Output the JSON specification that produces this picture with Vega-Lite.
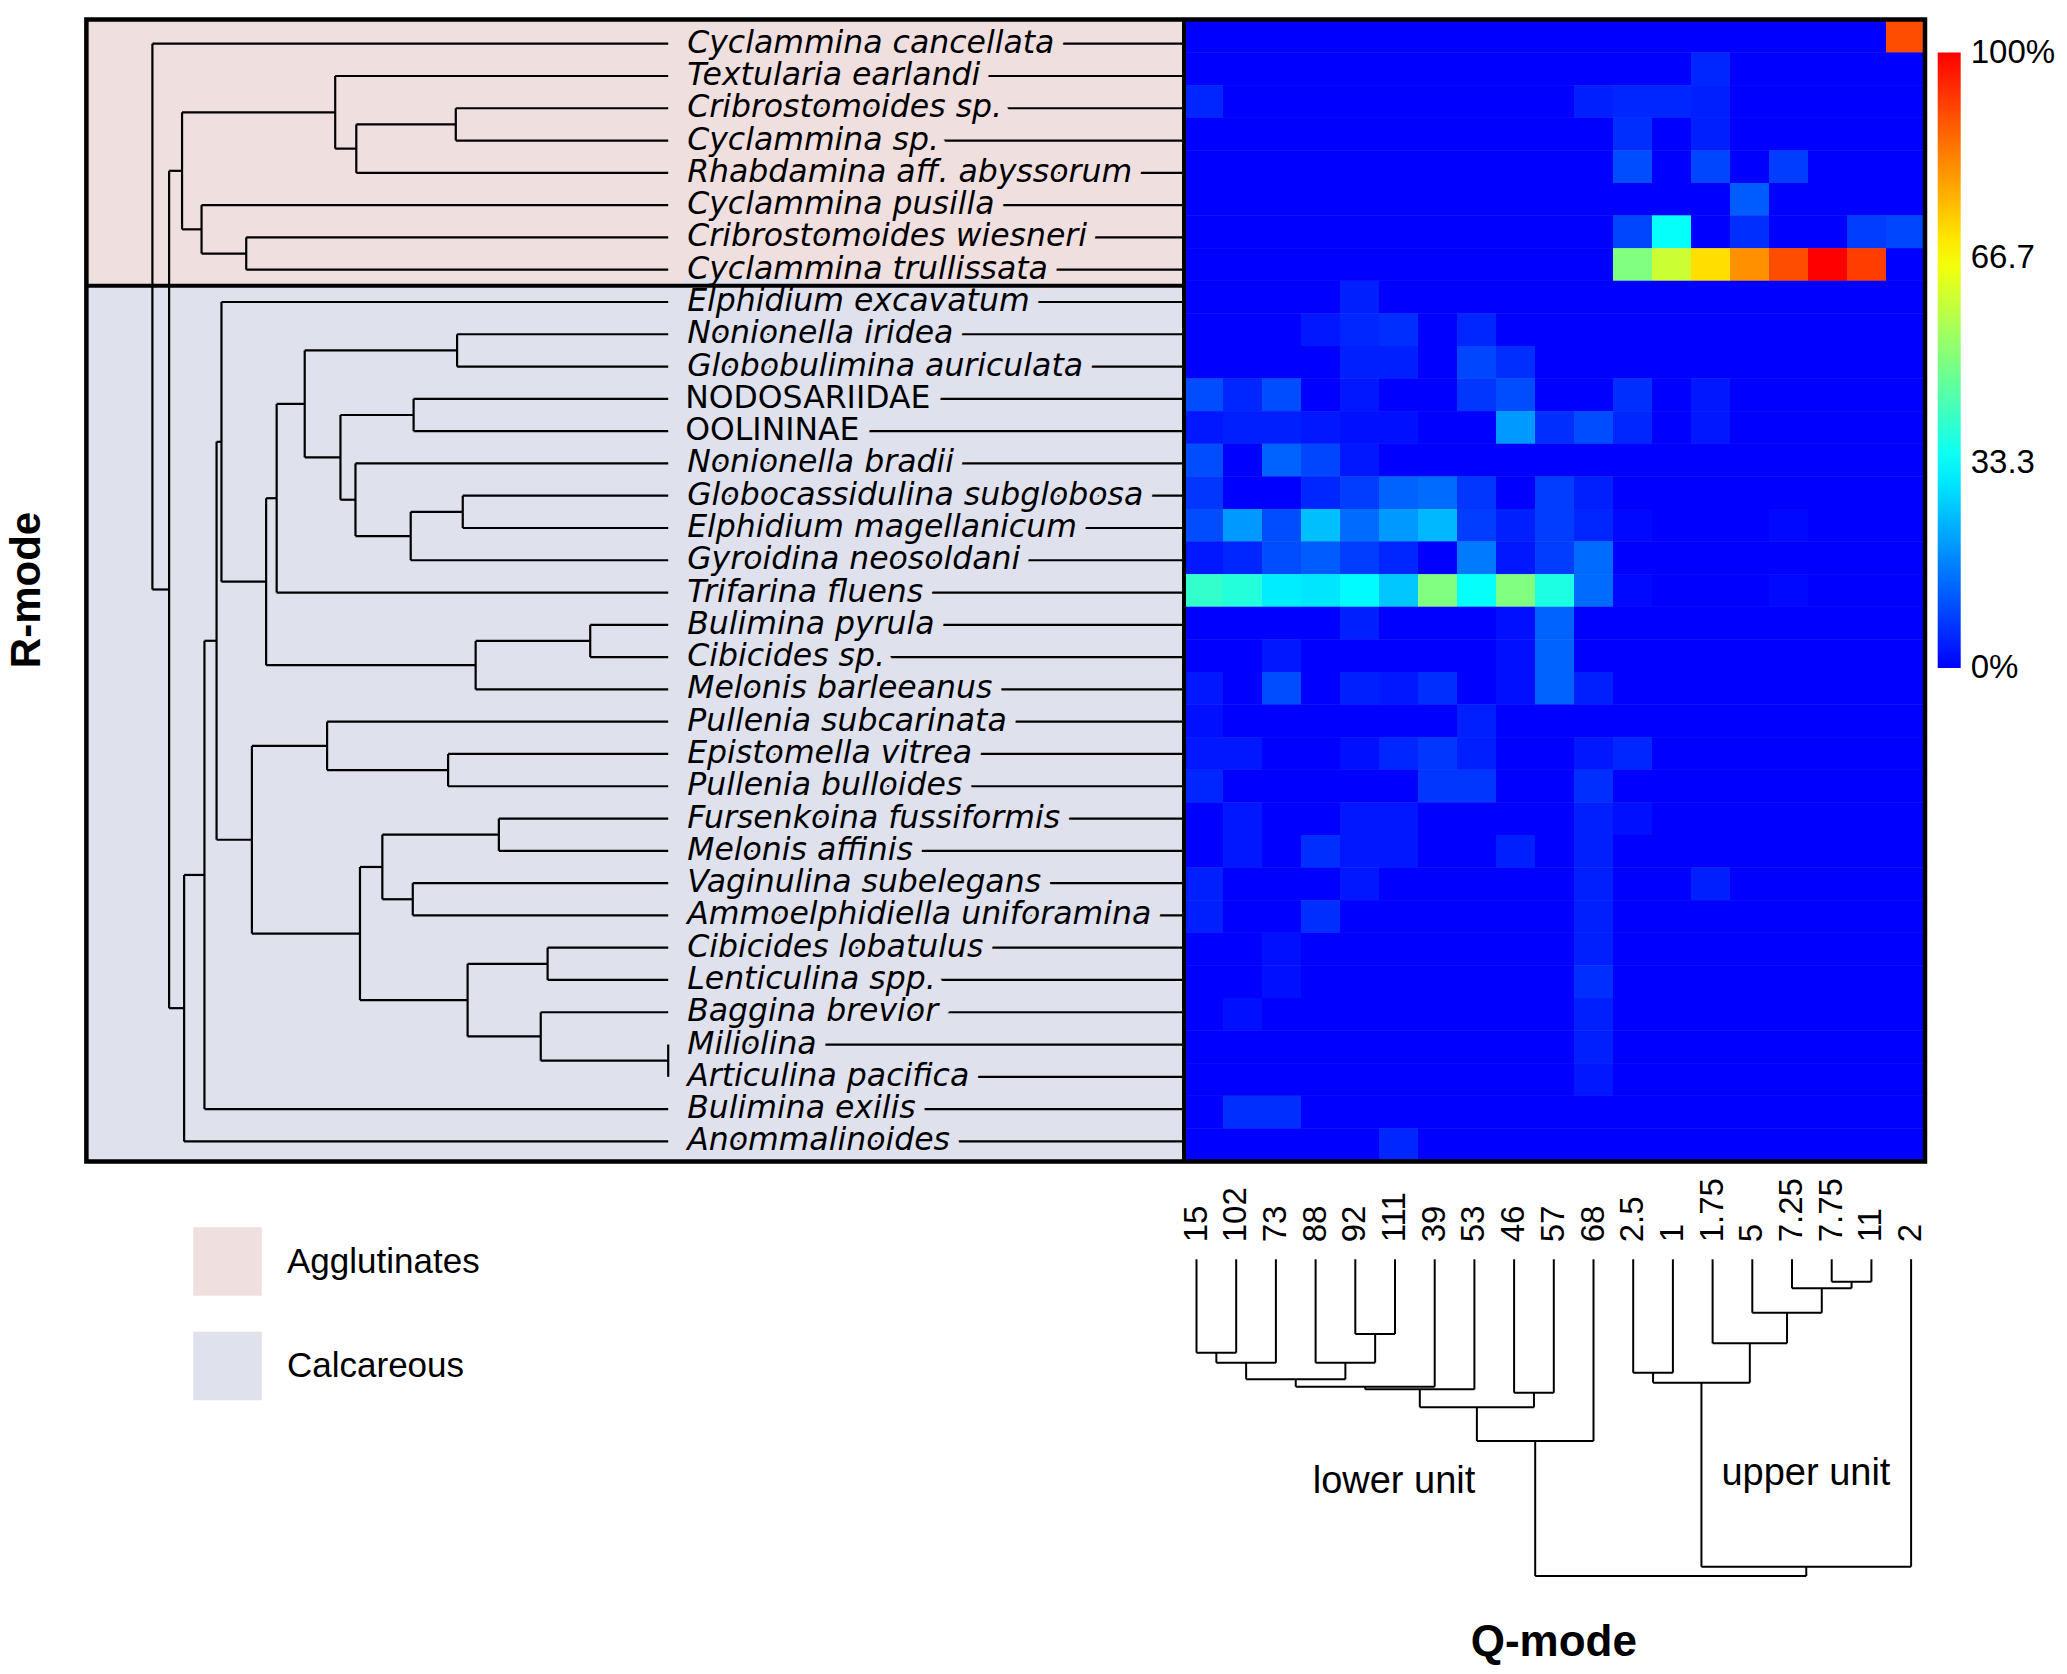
{
"$schema":"https://vega.github.io/schema/vega-lite/v6.json",
"width":2067,"height":1674,
"autosize":{"type":"fit","contains":"padding"},
"padding":0,
"background":"white",
"config":{"view":{"stroke":null},"font":"Liberation Sans","legend":{"labelColor":"black"}},
"datasets":{
"species":[
{"row":0,"species":"Cyclammina cancellata","rank":"species","group":"Agglutinates"},
{"row":1,"species":"Textularia earlandi","rank":"species","group":"Agglutinates"},
{"row":2,"species":"Cribrostomoides sp.","rank":"genus","group":"Agglutinates"},
{"row":3,"species":"Cyclammina sp.","rank":"genus","group":"Agglutinates"},
{"row":4,"species":"Rhabdamina aff. abyssorum","rank":"species","group":"Agglutinates"},
{"row":5,"species":"Cyclammina pusilla","rank":"species","group":"Agglutinates"},
{"row":6,"species":"Cribrostomoides wiesneri","rank":"species","group":"Agglutinates"},
{"row":7,"species":"Cyclammina trullissata","rank":"species","group":"Agglutinates"},
{"row":8,"species":"Elphidium excavatum","rank":"species","group":"Calcareous"},
{"row":9,"species":"Nonionella iridea","rank":"species","group":"Calcareous"},
{"row":10,"species":"Globobulimina auriculata","rank":"species","group":"Calcareous"},
{"row":11,"species":"NODOSARIIDAE","rank":"family","group":"Calcareous"},
{"row":12,"species":"OOLININAE","rank":"subfamily","group":"Calcareous"},
{"row":13,"species":"Nonionella bradii","rank":"species","group":"Calcareous"},
{"row":14,"species":"Globocassidulina subglobosa","rank":"species","group":"Calcareous"},
{"row":15,"species":"Elphidium magellanicum","rank":"species","group":"Calcareous"},
{"row":16,"species":"Gyroidina neosoldani","rank":"species","group":"Calcareous"},
{"row":17,"species":"Trifarina fluens","rank":"species","group":"Calcareous"},
{"row":18,"species":"Bulimina pyrula","rank":"species","group":"Calcareous"},
{"row":19,"species":"Cibicides sp.","rank":"genus","group":"Calcareous"},
{"row":20,"species":"Melonis barleeanus","rank":"species","group":"Calcareous"},
{"row":21,"species":"Pullenia subcarinata","rank":"species","group":"Calcareous"},
{"row":22,"species":"Epistomella vitrea","rank":"species","group":"Calcareous"},
{"row":23,"species":"Pullenia bulloides","rank":"species","group":"Calcareous"},
{"row":24,"species":"Fursenkoina fussiformis","rank":"species","group":"Calcareous"},
{"row":25,"species":"Melonis affinis","rank":"species","group":"Calcareous"},
{"row":26,"species":"Vaginulina subelegans","rank":"species","group":"Calcareous"},
{"row":27,"species":"Ammoelphidiella uniforamina","rank":"species","group":"Calcareous"},
{"row":28,"species":"Cibicides lobatulus","rank":"species","group":"Calcareous"},
{"row":29,"species":"Lenticulina spp.","rank":"genus","group":"Calcareous"},
{"row":30,"species":"Baggina brevior","rank":"species","group":"Calcareous"},
{"row":31,"species":"Miliolina","rank":"genus","group":"Calcareous"},
{"row":32,"species":"Articulina pacifica","rank":"species","group":"Calcareous"},
{"row":33,"species":"Bulimina exilis","rank":"species","group":"Calcareous"},
{"row":34,"species":"Anommalinoides","rank":"genus","group":"Calcareous"}
],
"groups":[
{"group":"Agglutinates","row_from":-0.75,"row_to":7.5},
{"group":"Calcareous","row_from":7.5,"row_to":34.62}
],
"samples":[
{"pos":0,"sample":"15"},{"pos":1,"sample":"102"},{"pos":2,"sample":"73"},{"pos":3,"sample":"88"},{"pos":4,"sample":"92"},{"pos":5,"sample":"111"},{"pos":6,"sample":"39"},{"pos":7,"sample":"53"},{"pos":8,"sample":"46"},{"pos":9,"sample":"57"},{"pos":10,"sample":"68"},{"pos":11,"sample":"2.5"},{"pos":12,"sample":"1"},{"pos":13,"sample":"1.75"},{"pos":14,"sample":"5"},{"pos":15,"sample":"7.25"},{"pos":16,"sample":"7.75"},{"pos":17,"sample":"11"},{"pos":18,"sample":"2"}
],
"rtree":[
{"h1":1.0,"h2":1.0,"r1":0,"r2":16.9055},{"h1":0,"h2":1.0,"r1":0,"r2":0},{"h1":0.9676,"h2":1.0,"r1":16.9055,"r2":16.9055},
{"h1":0.9676,"h2":0.9676,"r1":3.9375,"r2":29.8735},{"h1":0.9425,"h2":0.9676,"r1":3.9375,"r2":3.9375},{"h1":0.9385,"h2":0.9676,"r1":29.8735,"r2":29.8735},
{"h1":0.9425,"h2":0.9425,"r1":2.125,"r2":5.75},{"h1":0.6456,"h2":0.9425,"r1":2.125,"r2":2.125},{"h1":0.9047,"h2":0.9425,"r1":5.75,"r2":5.75},
{"h1":0.6456,"h2":0.6456,"r1":1,"r2":3.25},{"h1":0,"h2":0.6456,"r1":1,"r2":1},{"h1":0.6047,"h2":0.6456,"r1":3.25,"r2":3.25},
{"h1":0.6047,"h2":0.6047,"r1":2.5,"r2":4},{"h1":0.4118,"h2":0.6047,"r1":2.5,"r2":2.5},{"h1":0,"h2":0.6047,"r1":4,"r2":4},
{"h1":0.4118,"h2":0.4118,"r1":2,"r2":3},{"h1":0,"h2":0.4118,"r1":2,"r2":2},{"h1":0,"h2":0.4118,"r1":3,"r2":3},
{"h1":0.9047,"h2":0.9047,"r1":5,"r2":6.5},{"h1":0,"h2":0.9047,"r1":5,"r2":5},{"h1":0.8181,"h2":0.9047,"r1":6.5,"r2":6.5},
{"h1":0.8181,"h2":0.8181,"r1":6,"r2":7},{"h1":0,"h2":0.8181,"r1":6,"r2":6},{"h1":0,"h2":0.8181,"r1":7,"r2":7},
{"h1":0.9385,"h2":0.9385,"r1":25.7471,"r2":34},{"h1":0.8991,"h2":0.9385,"r1":25.7471,"r2":25.7471},{"h1":0,"h2":0.9385,"r1":34,"r2":34},
{"h1":0.8991,"h2":0.8991,"r1":18.4941,"r2":33},{"h1":0.8756,"h2":0.8991,"r1":18.4941,"r2":18.4941},{"h1":0,"h2":0.8991,"r1":33,"r2":33},
{"h1":0.8756,"h2":0.8756,"r1":12.332,"r2":24.6563},{"h1":0.8661,"h2":0.8756,"r1":12.332,"r2":12.332},{"h1":0.8071,"h2":0.8756,"r1":24.6563,"r2":24.6563},
{"h1":0.8661,"h2":0.8661,"r1":8,"r2":16.6641},{"h1":0,"h2":0.8661,"r1":8,"r2":8},{"h1":0.7795,"h2":0.8661,"r1":16.6641,"r2":16.6641},
{"h1":0.7795,"h2":0.7795,"r1":14.0781,"r2":19.25},{"h1":0.7591,"h2":0.7795,"r1":14.0781,"r2":14.0781},{"h1":0.3733,"h2":0.7795,"r1":19.25,"r2":19.25},
{"h1":0.7591,"h2":0.7591,"r1":11.1563,"r2":17},{"h1":0.7047,"h2":0.7591,"r1":11.1563,"r2":11.1563},{"h1":0,"h2":0.7591,"r1":17,"r2":17},
{"h1":0.7047,"h2":0.7047,"r1":9.5,"r2":12.8125},{"h1":0.4093,"h2":0.7047,"r1":9.5,"r2":9.5},{"h1":0.6354,"h2":0.7047,"r1":12.8125,"r2":12.8125},
{"h1":0.4093,"h2":0.4093,"r1":9,"r2":10},{"h1":0,"h2":0.4093,"r1":9,"r2":9},{"h1":0,"h2":0.4093,"r1":10,"r2":10},
{"h1":0.6354,"h2":0.6354,"r1":11.5,"r2":14.125},{"h1":0.4936,"h2":0.6354,"r1":11.5,"r2":11.5},{"h1":0.6063,"h2":0.6354,"r1":14.125,"r2":14.125},
{"h1":0.4936,"h2":0.4936,"r1":11,"r2":12},{"h1":0,"h2":0.4936,"r1":11,"r2":11},{"h1":0,"h2":0.4936,"r1":12,"r2":12},
{"h1":0.6063,"h2":0.6063,"r1":13,"r2":15.25},{"h1":0,"h2":0.6063,"r1":13,"r2":13},{"h1":0.4992,"h2":0.6063,"r1":15.25,"r2":15.25},
{"h1":0.4992,"h2":0.4992,"r1":14.5,"r2":16},{"h1":0.3983,"h2":0.4992,"r1":14.5,"r2":14.5},{"h1":0,"h2":0.4992,"r1":16,"r2":16},
{"h1":0.3983,"h2":0.3983,"r1":14,"r2":15},{"h1":0,"h2":0.3983,"r1":14,"r2":14},{"h1":0,"h2":0.3983,"r1":15,"r2":15},
{"h1":0.3733,"h2":0.3733,"r1":18.5,"r2":20},{"h1":0.1512,"h2":0.3733,"r1":18.5,"r2":18.5},{"h1":0,"h2":0.3733,"r1":20,"r2":20},
{"h1":0.1512,"h2":0.1512,"r1":18,"r2":19},{"h1":0,"h2":0.1512,"r1":18,"r2":18},{"h1":0,"h2":0.1512,"r1":19,"r2":19},
{"h1":0.8071,"h2":0.8071,"r1":21.75,"r2":27.5625},{"h1":0.6613,"h2":0.8071,"r1":21.75,"r2":21.75},{"h1":0.5976,"h2":0.8071,"r1":27.5625,"r2":27.5625},
{"h1":0.6613,"h2":0.6613,"r1":21,"r2":22.5},{"h1":0,"h2":0.6613,"r1":21,"r2":21},{"h1":0.4267,"h2":0.6613,"r1":22.5,"r2":22.5},
{"h1":0.4267,"h2":0.4267,"r1":22,"r2":23},{"h1":0,"h2":0.4267,"r1":22,"r2":22},{"h1":0,"h2":0.4267,"r1":23,"r2":23},
{"h1":0.5976,"h2":0.5976,"r1":25.5,"r2":29.625},{"h1":0.5542,"h2":0.5976,"r1":25.5,"r2":25.5},{"h1":0.3889,"h2":0.5976,"r1":29.625,"r2":29.625},
{"h1":0.5542,"h2":0.5542,"r1":24.5,"r2":26.5},{"h1":0.3283,"h2":0.5542,"r1":24.5,"r2":24.5},{"h1":0.4952,"h2":0.5542,"r1":26.5,"r2":26.5},
{"h1":0.3283,"h2":0.3283,"r1":24,"r2":25},{"h1":0,"h2":0.3283,"r1":24,"r2":24},{"h1":0,"h2":0.3283,"r1":25,"r2":25},
{"h1":0.4952,"h2":0.4952,"r1":26,"r2":27},{"h1":0,"h2":0.4952,"r1":26,"r2":26},{"h1":0,"h2":0.4952,"r1":27,"r2":27},
{"h1":0.3889,"h2":0.3889,"r1":28.5,"r2":30.75},{"h1":0.2338,"h2":0.3889,"r1":28.5,"r2":28.5},{"h1":0.2471,"h2":0.3889,"r1":30.75,"r2":30.75},
{"h1":0.2338,"h2":0.2338,"r1":28,"r2":29},{"h1":0,"h2":0.2338,"r1":28,"r2":28},{"h1":0,"h2":0.2338,"r1":29,"r2":29},
{"h1":0.2471,"h2":0.2471,"r1":30,"r2":31.5},{"h1":0,"h2":0.2471,"r1":30,"r2":30},{"h1":0,"h2":0.2471,"r1":31.5,"r2":31.5},
{"h1":0,"h2":0,"r1":31,"r2":32}
],
"qtree":[
{"p1":8.5313,"p2":15.3594,"h1":1,"h2":1},{"p1":8.5313,"p2":8.5313,"h1":0.5737,"h2":1},{"p1":15.3594,"p2":15.3594,"h1":0.9706,"h2":1},
{"p1":7.0625,"p2":10,"h1":0.5737,"h2":0.5737},{"p1":7.0625,"p2":7.0625,"h1":0.4673,"h2":0.5737},{"p1":10,"p2":10,"h1":0,"h2":0.5737},
{"p1":5.625,"p2":8.5,"h1":0.4673,"h2":0.4673},{"p1":5.625,"p2":5.625,"h1":0.4105,"h2":0.4673},{"p1":8.5,"p2":8.5,"h1":0.4212,"h2":0.4673},
{"p1":4.25,"p2":7,"h1":0.4105,"h2":0.4105},{"p1":4.25,"p2":4.25,"h1":0.4023,"h2":0.4105},{"p1":7,"p2":7,"h1":0,"h2":0.4105},
{"p1":2.5,"p2":6,"h1":0.4023,"h2":0.4023},{"p1":2.5,"p2":2.5,"h1":0.3789,"h2":0.4023},{"p1":6,"p2":6,"h1":0,"h2":0.4023},
{"p1":1.25,"p2":3.75,"h1":0.3789,"h2":0.3789},{"p1":1.25,"p2":1.25,"h1":0.3265,"h2":0.3789},{"p1":3.75,"p2":3.75,"h1":0.3265,"h2":0.3789},
{"p1":0.5,"p2":2,"h1":0.3265,"h2":0.3265},{"p1":0.5,"p2":0.5,"h1":0.2949,"h2":0.3265},{"p1":2,"p2":2,"h1":0,"h2":0.3265},
{"p1":0,"p2":1,"h1":0.2949,"h2":0.2949},{"p1":0,"p2":0,"h1":0,"h2":0.2949},{"p1":1,"p2":1,"h1":0,"h2":0.2949},
{"p1":3,"p2":4.5,"h1":0.3265,"h2":0.3265},{"p1":3,"p2":3,"h1":0,"h2":0.3265},{"p1":4.5,"p2":4.5,"h1":0.2359,"h2":0.3265},
{"p1":4,"p2":5,"h1":0.2359,"h2":0.2359},{"p1":4,"p2":4,"h1":0,"h2":0.2359},{"p1":5,"p2":5,"h1":0,"h2":0.2359},
{"p1":8,"p2":9,"h1":0.4212,"h2":0.4212},{"p1":8,"p2":8,"h1":0,"h2":0.4212},{"p1":9,"p2":9,"h1":0,"h2":0.4212},
{"p1":12.7188,"p2":18,"h1":0.9706,"h2":0.9706},{"p1":12.7188,"p2":12.7188,"h1":0.3896,"h2":0.9706},{"p1":18,"p2":18,"h1":0,"h2":0.9706},
{"p1":11.5,"p2":13.9375,"h1":0.3896,"h2":0.3896},{"p1":11.5,"p2":11.5,"h1":0.3581,"h2":0.3896},{"p1":13.9375,"p2":13.9375,"h1":0.2652,"h2":0.3896},
{"p1":11,"p2":12,"h1":0.3581,"h2":0.3581},{"p1":11,"p2":11,"h1":0,"h2":0.3581},{"p1":12,"p2":12,"h1":0,"h2":0.3581},
{"p1":13,"p2":14.875,"h1":0.2652,"h2":0.2652},{"p1":13,"p2":13,"h1":0,"h2":0.2652},{"p1":14.875,"p2":14.875,"h1":0.1686,"h2":0.2652},
{"p1":14,"p2":15.75,"h1":0.1686,"h2":0.1686},{"p1":14,"p2":14,"h1":0,"h2":0.1686},{"p1":15.75,"p2":15.75,"h1":0.0916,"h2":0.1686},
{"p1":15,"p2":16.5,"h1":0.0916,"h2":0.0916},{"p1":15,"p2":15,"h1":0,"h2":0.0916},{"p1":16.5,"p2":16.5,"h1":0.0707,"h2":0.0916},
{"p1":16,"p2":17,"h1":0.0707,"h2":0.0707},{"p1":16,"p2":16,"h1":0,"h2":0.0707},{"p1":17,"p2":17,"h1":0,"h2":0.0707}
],
"cells":[
{"row":0,"sample":"15","pct":0},{"row":0,"sample":"102","pct":0},{"row":0,"sample":"73","pct":0},{"row":0,"sample":"88","pct":0},{"row":0,"sample":"92","pct":0},{"row":0,"sample":"111","pct":0},{"row":0,"sample":"39","pct":0},{"row":0,"sample":"53","pct":0},{"row":0,"sample":"46","pct":0},{"row":0,"sample":"57","pct":0},{"row":0,"sample":"68","pct":0},{"row":0,"sample":"2.5","pct":0},{"row":0,"sample":"1","pct":0},{"row":0,"sample":"1.75","pct":0},{"row":0,"sample":"5","pct":0},{"row":0,"sample":"7.25","pct":0},{"row":0,"sample":"7.75","pct":0},{"row":0,"sample":"11","pct":0},{"row":0,"sample":"2","pct":90},
{"row":1,"sample":"15","pct":0},{"row":1,"sample":"102","pct":0},{"row":1,"sample":"73","pct":0},{"row":1,"sample":"88","pct":0},{"row":1,"sample":"92","pct":0},{"row":1,"sample":"111","pct":0},{"row":1,"sample":"39","pct":0},{"row":1,"sample":"53","pct":0},{"row":1,"sample":"46","pct":0},{"row":1,"sample":"57","pct":0},{"row":1,"sample":"68","pct":0},{"row":1,"sample":"2.5","pct":0},{"row":1,"sample":"1","pct":0},{"row":1,"sample":"1.75","pct":5},{"row":1,"sample":"5","pct":0},{"row":1,"sample":"7.25","pct":0},{"row":1,"sample":"7.75","pct":0},{"row":1,"sample":"11","pct":0},{"row":1,"sample":"2","pct":0},
{"row":2,"sample":"15","pct":5},{"row":2,"sample":"102","pct":0},{"row":2,"sample":"73","pct":0},{"row":2,"sample":"88","pct":0},{"row":2,"sample":"92","pct":0},{"row":2,"sample":"111","pct":0},{"row":2,"sample":"39","pct":0},{"row":2,"sample":"53","pct":0},{"row":2,"sample":"46","pct":0},{"row":2,"sample":"57","pct":0},{"row":2,"sample":"68","pct":4},{"row":2,"sample":"2.5","pct":5},{"row":2,"sample":"1","pct":5},{"row":2,"sample":"1.75","pct":4},{"row":2,"sample":"5","pct":0},{"row":2,"sample":"7.25","pct":0},{"row":2,"sample":"7.75","pct":0},{"row":2,"sample":"11","pct":0},{"row":2,"sample":"2","pct":0},
{"row":3,"sample":"15","pct":0},{"row":3,"sample":"102","pct":0},{"row":3,"sample":"73","pct":0},{"row":3,"sample":"88","pct":0},{"row":3,"sample":"92","pct":0},{"row":3,"sample":"111","pct":0},{"row":3,"sample":"39","pct":0},{"row":3,"sample":"53","pct":0},{"row":3,"sample":"46","pct":0},{"row":3,"sample":"57","pct":0},{"row":3,"sample":"68","pct":0},{"row":3,"sample":"2.5","pct":6},{"row":3,"sample":"1","pct":0},{"row":3,"sample":"1.75","pct":4},{"row":3,"sample":"5","pct":0},{"row":3,"sample":"7.25","pct":0},{"row":3,"sample":"7.75","pct":0},{"row":3,"sample":"11","pct":0},{"row":3,"sample":"2","pct":0},
{"row":4,"sample":"15","pct":0},{"row":4,"sample":"102","pct":0},{"row":4,"sample":"73","pct":0},{"row":4,"sample":"88","pct":0},{"row":4,"sample":"92","pct":0},{"row":4,"sample":"111","pct":0},{"row":4,"sample":"39","pct":0},{"row":4,"sample":"53","pct":0},{"row":4,"sample":"46","pct":0},{"row":4,"sample":"57","pct":0},{"row":4,"sample":"68","pct":0},{"row":4,"sample":"2.5","pct":10},{"row":4,"sample":"1","pct":0},{"row":4,"sample":"1.75","pct":9},{"row":4,"sample":"5","pct":0},{"row":4,"sample":"7.25","pct":8},{"row":4,"sample":"7.75","pct":0},{"row":4,"sample":"11","pct":0},{"row":4,"sample":"2","pct":0},
{"row":5,"sample":"15","pct":0},{"row":5,"sample":"102","pct":0},{"row":5,"sample":"73","pct":0},{"row":5,"sample":"88","pct":0},{"row":5,"sample":"92","pct":0},{"row":5,"sample":"111","pct":0},{"row":5,"sample":"39","pct":0},{"row":5,"sample":"53","pct":0},{"row":5,"sample":"46","pct":0},{"row":5,"sample":"57","pct":0},{"row":5,"sample":"68","pct":0},{"row":5,"sample":"2.5","pct":0},{"row":5,"sample":"1","pct":0},{"row":5,"sample":"1.75","pct":0},{"row":5,"sample":"5","pct":12},{"row":5,"sample":"7.25","pct":0},{"row":5,"sample":"7.75","pct":0},{"row":5,"sample":"11","pct":0},{"row":5,"sample":"2","pct":0},
{"row":6,"sample":"15","pct":0},{"row":6,"sample":"102","pct":0},{"row":6,"sample":"73","pct":0},{"row":6,"sample":"88","pct":0},{"row":6,"sample":"92","pct":0},{"row":6,"sample":"111","pct":0},{"row":6,"sample":"39","pct":0},{"row":6,"sample":"53","pct":0},{"row":6,"sample":"46","pct":0},{"row":6,"sample":"57","pct":0},{"row":6,"sample":"68","pct":0},{"row":6,"sample":"2.5","pct":9},{"row":6,"sample":"1","pct":34},{"row":6,"sample":"1.75","pct":0},{"row":6,"sample":"5","pct":6},{"row":6,"sample":"7.25","pct":0},{"row":6,"sample":"7.75","pct":0},{"row":6,"sample":"11","pct":8},{"row":6,"sample":"2","pct":9},
{"row":7,"sample":"15","pct":0},{"row":7,"sample":"102","pct":0},{"row":7,"sample":"73","pct":0},{"row":7,"sample":"88","pct":0},{"row":7,"sample":"92","pct":0},{"row":7,"sample":"111","pct":0},{"row":7,"sample":"39","pct":0},{"row":7,"sample":"53","pct":0},{"row":7,"sample":"46","pct":0},{"row":7,"sample":"57","pct":0},{"row":7,"sample":"68","pct":0},{"row":7,"sample":"2.5","pct":50},{"row":7,"sample":"1","pct":60},{"row":7,"sample":"1.75","pct":71},{"row":7,"sample":"5","pct":81},{"row":7,"sample":"7.25","pct":90},{"row":7,"sample":"7.75","pct":100},{"row":7,"sample":"11","pct":92},{"row":7,"sample":"2","pct":0},
{"row":8,"sample":"15","pct":0},{"row":8,"sample":"102","pct":0},{"row":8,"sample":"73","pct":0},{"row":8,"sample":"88","pct":0},{"row":8,"sample":"92","pct":4},{"row":8,"sample":"111","pct":0},{"row":8,"sample":"39","pct":0},{"row":8,"sample":"53","pct":0},{"row":8,"sample":"46","pct":0},{"row":8,"sample":"57","pct":0},{"row":8,"sample":"68","pct":0},{"row":8,"sample":"2.5","pct":0},{"row":8,"sample":"1","pct":0},{"row":8,"sample":"1.75","pct":0},{"row":8,"sample":"5","pct":0},{"row":8,"sample":"7.25","pct":0},{"row":8,"sample":"7.75","pct":0},{"row":8,"sample":"11","pct":0},{"row":8,"sample":"2","pct":0},
{"row":9,"sample":"15","pct":0},{"row":9,"sample":"102","pct":0},{"row":9,"sample":"73","pct":0},{"row":9,"sample":"88","pct":3},{"row":9,"sample":"92","pct":5},{"row":9,"sample":"111","pct":6},{"row":9,"sample":"39","pct":0},{"row":9,"sample":"53","pct":5},{"row":9,"sample":"46","pct":0},{"row":9,"sample":"57","pct":0},{"row":9,"sample":"68","pct":0},{"row":9,"sample":"2.5","pct":0},{"row":9,"sample":"1","pct":0},{"row":9,"sample":"1.75","pct":0},{"row":9,"sample":"5","pct":0},{"row":9,"sample":"7.25","pct":0},{"row":9,"sample":"7.75","pct":0},{"row":9,"sample":"11","pct":0},{"row":9,"sample":"2","pct":0},
{"row":10,"sample":"15","pct":0},{"row":10,"sample":"102","pct":0},{"row":10,"sample":"73","pct":0},{"row":10,"sample":"88","pct":0},{"row":10,"sample":"92","pct":4},{"row":10,"sample":"111","pct":4},{"row":10,"sample":"39","pct":0},{"row":10,"sample":"53","pct":9},{"row":10,"sample":"46","pct":6},{"row":10,"sample":"57","pct":0},{"row":10,"sample":"68","pct":0},{"row":10,"sample":"2.5","pct":0},{"row":10,"sample":"1","pct":0},{"row":10,"sample":"1.75","pct":0},{"row":10,"sample":"5","pct":0},{"row":10,"sample":"7.25","pct":0},{"row":10,"sample":"7.75","pct":0},{"row":10,"sample":"11","pct":0},{"row":10,"sample":"2","pct":0},
{"row":11,"sample":"15","pct":10},{"row":11,"sample":"102","pct":5},{"row":11,"sample":"73","pct":10},{"row":11,"sample":"88","pct":0},{"row":11,"sample":"92","pct":3},{"row":11,"sample":"111","pct":0},{"row":11,"sample":"39","pct":0},{"row":11,"sample":"53","pct":7},{"row":11,"sample":"46","pct":10},{"row":11,"sample":"57","pct":0},{"row":11,"sample":"68","pct":0},{"row":11,"sample":"2.5","pct":6},{"row":11,"sample":"1","pct":0},{"row":11,"sample":"1.75","pct":3},{"row":11,"sample":"5","pct":0},{"row":11,"sample":"7.25","pct":0},{"row":11,"sample":"7.75","pct":0},{"row":11,"sample":"11","pct":0},{"row":11,"sample":"2","pct":0},
{"row":12,"sample":"15","pct":3},{"row":12,"sample":"102","pct":4},{"row":12,"sample":"73","pct":4},{"row":12,"sample":"88","pct":3},{"row":12,"sample":"92","pct":2},{"row":12,"sample":"111","pct":2},{"row":12,"sample":"39","pct":0},{"row":12,"sample":"53","pct":0},{"row":12,"sample":"46","pct":20},{"row":12,"sample":"57","pct":6},{"row":12,"sample":"68","pct":10},{"row":12,"sample":"2.5","pct":5},{"row":12,"sample":"1","pct":0},{"row":12,"sample":"1.75","pct":3},{"row":12,"sample":"5","pct":0},{"row":12,"sample":"7.25","pct":0},{"row":12,"sample":"7.75","pct":0},{"row":12,"sample":"11","pct":0},{"row":12,"sample":"2","pct":0},
{"row":13,"sample":"15","pct":10},{"row":13,"sample":"102","pct":0},{"row":13,"sample":"73","pct":13},{"row":13,"sample":"88","pct":9},{"row":13,"sample":"92","pct":3},{"row":13,"sample":"111","pct":0},{"row":13,"sample":"39","pct":0},{"row":13,"sample":"53","pct":0},{"row":13,"sample":"46","pct":0},{"row":13,"sample":"57","pct":0},{"row":13,"sample":"68","pct":0},{"row":13,"sample":"2.5","pct":0},{"row":13,"sample":"1","pct":0},{"row":13,"sample":"1.75","pct":0},{"row":13,"sample":"5","pct":0},{"row":13,"sample":"7.25","pct":0},{"row":13,"sample":"7.75","pct":0},{"row":13,"sample":"11","pct":0},{"row":13,"sample":"2","pct":0},
{"row":14,"sample":"15","pct":7},{"row":14,"sample":"102","pct":0},{"row":14,"sample":"73","pct":0},{"row":14,"sample":"88","pct":5},{"row":14,"sample":"92","pct":8},{"row":14,"sample":"111","pct":13},{"row":14,"sample":"39","pct":14},{"row":14,"sample":"53","pct":7},{"row":14,"sample":"46","pct":0},{"row":14,"sample":"57","pct":8},{"row":14,"sample":"68","pct":4},{"row":14,"sample":"2.5","pct":0},{"row":14,"sample":"1","pct":0},{"row":14,"sample":"1.75","pct":0},{"row":14,"sample":"5","pct":0},{"row":14,"sample":"7.25","pct":0},{"row":14,"sample":"7.75","pct":0},{"row":14,"sample":"11","pct":0},{"row":14,"sample":"2","pct":0},
{"row":15,"sample":"15","pct":10},{"row":15,"sample":"102","pct":20},{"row":15,"sample":"73","pct":10},{"row":15,"sample":"88","pct":25},{"row":15,"sample":"92","pct":14},{"row":15,"sample":"111","pct":20},{"row":15,"sample":"39","pct":24},{"row":15,"sample":"53","pct":8},{"row":15,"sample":"46","pct":4},{"row":15,"sample":"57","pct":8},{"row":15,"sample":"68","pct":5},{"row":15,"sample":"2.5","pct":1},{"row":15,"sample":"1","pct":0},{"row":15,"sample":"1.75","pct":0},{"row":15,"sample":"5","pct":0},{"row":15,"sample":"7.25","pct":1},{"row":15,"sample":"7.75","pct":0},{"row":15,"sample":"11","pct":0},{"row":15,"sample":"2","pct":0},
{"row":16,"sample":"15","pct":3},{"row":16,"sample":"102","pct":5},{"row":16,"sample":"73","pct":10},{"row":16,"sample":"88","pct":12},{"row":16,"sample":"92","pct":8},{"row":16,"sample":"111","pct":5},{"row":16,"sample":"39","pct":0},{"row":16,"sample":"53","pct":16},{"row":16,"sample":"46","pct":3},{"row":16,"sample":"57","pct":8},{"row":16,"sample":"68","pct":14},{"row":16,"sample":"2.5","pct":0},{"row":16,"sample":"1","pct":0},{"row":16,"sample":"1.75","pct":0},{"row":16,"sample":"5","pct":0},{"row":16,"sample":"7.25","pct":0},{"row":16,"sample":"7.75","pct":0},{"row":16,"sample":"11","pct":0},{"row":16,"sample":"2","pct":0},
{"row":17,"sample":"15","pct":40},{"row":17,"sample":"102","pct":38},{"row":17,"sample":"73","pct":31},{"row":17,"sample":"88","pct":30},{"row":17,"sample":"92","pct":33},{"row":17,"sample":"111","pct":26},{"row":17,"sample":"39","pct":50},{"row":17,"sample":"53","pct":34},{"row":17,"sample":"46","pct":50},{"row":17,"sample":"57","pct":37},{"row":17,"sample":"68","pct":14},{"row":17,"sample":"2.5","pct":1},{"row":17,"sample":"1","pct":0},{"row":17,"sample":"1.75","pct":0},{"row":17,"sample":"5","pct":0},{"row":17,"sample":"7.25","pct":1},{"row":17,"sample":"7.75","pct":0},{"row":17,"sample":"11","pct":0},{"row":17,"sample":"2","pct":0},
{"row":18,"sample":"15","pct":0},{"row":18,"sample":"102","pct":0},{"row":18,"sample":"73","pct":0},{"row":18,"sample":"88","pct":0},{"row":18,"sample":"92","pct":4},{"row":18,"sample":"111","pct":0},{"row":18,"sample":"39","pct":0},{"row":18,"sample":"53","pct":0},{"row":18,"sample":"46","pct":2},{"row":18,"sample":"57","pct":13},{"row":18,"sample":"68","pct":0},{"row":18,"sample":"2.5","pct":0},{"row":18,"sample":"1","pct":0},{"row":18,"sample":"1.75","pct":0},{"row":18,"sample":"5","pct":0},{"row":18,"sample":"7.25","pct":0},{"row":18,"sample":"7.75","pct":0},{"row":18,"sample":"11","pct":0},{"row":18,"sample":"2","pct":0},
{"row":19,"sample":"15","pct":0},{"row":19,"sample":"102","pct":0},{"row":19,"sample":"73","pct":3},{"row":19,"sample":"88","pct":0},{"row":19,"sample":"92","pct":0},{"row":19,"sample":"111","pct":0},{"row":19,"sample":"39","pct":0},{"row":19,"sample":"53","pct":0},{"row":19,"sample":"46","pct":2},{"row":19,"sample":"57","pct":13},{"row":19,"sample":"68","pct":0},{"row":19,"sample":"2.5","pct":0},{"row":19,"sample":"1","pct":0},{"row":19,"sample":"1.75","pct":0},{"row":19,"sample":"5","pct":0},{"row":19,"sample":"7.25","pct":0},{"row":19,"sample":"7.75","pct":0},{"row":19,"sample":"11","pct":0},{"row":19,"sample":"2","pct":0},
{"row":20,"sample":"15","pct":3},{"row":20,"sample":"102","pct":0},{"row":20,"sample":"73","pct":10},{"row":20,"sample":"88","pct":0},{"row":20,"sample":"92","pct":4},{"row":20,"sample":"111","pct":3},{"row":20,"sample":"39","pct":6},{"row":20,"sample":"53","pct":0},{"row":20,"sample":"46","pct":2},{"row":20,"sample":"57","pct":13},{"row":20,"sample":"68","pct":4},{"row":20,"sample":"2.5","pct":0},{"row":20,"sample":"1","pct":0},{"row":20,"sample":"1.75","pct":0},{"row":20,"sample":"5","pct":0},{"row":20,"sample":"7.25","pct":0},{"row":20,"sample":"7.75","pct":0},{"row":20,"sample":"11","pct":0},{"row":20,"sample":"2","pct":0},
{"row":21,"sample":"15","pct":2},{"row":21,"sample":"102","pct":0},{"row":21,"sample":"73","pct":0},{"row":21,"sample":"88","pct":0},{"row":21,"sample":"92","pct":0},{"row":21,"sample":"111","pct":0},{"row":21,"sample":"39","pct":0},{"row":21,"sample":"53","pct":4},{"row":21,"sample":"46","pct":0},{"row":21,"sample":"57","pct":0},{"row":21,"sample":"68","pct":0},{"row":21,"sample":"2.5","pct":0},{"row":21,"sample":"1","pct":0},{"row":21,"sample":"1.75","pct":0},{"row":21,"sample":"5","pct":0},{"row":21,"sample":"7.25","pct":0},{"row":21,"sample":"7.75","pct":0},{"row":21,"sample":"11","pct":0},{"row":21,"sample":"2","pct":0},
{"row":22,"sample":"15","pct":3},{"row":22,"sample":"102","pct":3},{"row":22,"sample":"73","pct":0},{"row":22,"sample":"88","pct":0},{"row":22,"sample":"92","pct":2},{"row":22,"sample":"111","pct":5},{"row":22,"sample":"39","pct":7},{"row":22,"sample":"53","pct":4},{"row":22,"sample":"46","pct":0},{"row":22,"sample":"57","pct":0},{"row":22,"sample":"68","pct":3},{"row":22,"sample":"2.5","pct":5},{"row":22,"sample":"1","pct":0},{"row":22,"sample":"1.75","pct":0},{"row":22,"sample":"5","pct":0},{"row":22,"sample":"7.25","pct":0},{"row":22,"sample":"7.75","pct":0},{"row":22,"sample":"11","pct":0},{"row":22,"sample":"2","pct":0},
{"row":23,"sample":"15","pct":5},{"row":23,"sample":"102","pct":0},{"row":23,"sample":"73","pct":0},{"row":23,"sample":"88","pct":0},{"row":23,"sample":"92","pct":0},{"row":23,"sample":"111","pct":0},{"row":23,"sample":"39","pct":7},{"row":23,"sample":"53","pct":7},{"row":23,"sample":"46","pct":0},{"row":23,"sample":"57","pct":0},{"row":23,"sample":"68","pct":6},{"row":23,"sample":"2.5","pct":0},{"row":23,"sample":"1","pct":0},{"row":23,"sample":"1.75","pct":0},{"row":23,"sample":"5","pct":0},{"row":23,"sample":"7.25","pct":0},{"row":23,"sample":"7.75","pct":0},{"row":23,"sample":"11","pct":0},{"row":23,"sample":"2","pct":0},
{"row":24,"sample":"15","pct":0},{"row":24,"sample":"102","pct":3},{"row":24,"sample":"73","pct":0},{"row":24,"sample":"88","pct":0},{"row":24,"sample":"92","pct":3},{"row":24,"sample":"111","pct":3},{"row":24,"sample":"39","pct":0},{"row":24,"sample":"53","pct":0},{"row":24,"sample":"46","pct":0},{"row":24,"sample":"57","pct":0},{"row":24,"sample":"68","pct":4},{"row":24,"sample":"2.5","pct":2},{"row":24,"sample":"1","pct":0},{"row":24,"sample":"1.75","pct":0},{"row":24,"sample":"5","pct":0},{"row":24,"sample":"7.25","pct":0},{"row":24,"sample":"7.75","pct":0},{"row":24,"sample":"11","pct":0},{"row":24,"sample":"2","pct":0},
{"row":25,"sample":"15","pct":0},{"row":25,"sample":"102","pct":3},{"row":25,"sample":"73","pct":0},{"row":25,"sample":"88","pct":6},{"row":25,"sample":"92","pct":3},{"row":25,"sample":"111","pct":3},{"row":25,"sample":"39","pct":0},{"row":25,"sample":"53","pct":0},{"row":25,"sample":"46","pct":4},{"row":25,"sample":"57","pct":0},{"row":25,"sample":"68","pct":4},{"row":25,"sample":"2.5","pct":0},{"row":25,"sample":"1","pct":0},{"row":25,"sample":"1.75","pct":0},{"row":25,"sample":"5","pct":0},{"row":25,"sample":"7.25","pct":0},{"row":25,"sample":"7.75","pct":0},{"row":25,"sample":"11","pct":0},{"row":25,"sample":"2","pct":0},
{"row":26,"sample":"15","pct":4},{"row":26,"sample":"102","pct":0},{"row":26,"sample":"73","pct":0},{"row":26,"sample":"88","pct":0},{"row":26,"sample":"92","pct":3},{"row":26,"sample":"111","pct":0},{"row":26,"sample":"39","pct":0},{"row":26,"sample":"53","pct":0},{"row":26,"sample":"46","pct":0},{"row":26,"sample":"57","pct":0},{"row":26,"sample":"68","pct":4},{"row":26,"sample":"2.5","pct":0},{"row":26,"sample":"1","pct":0},{"row":26,"sample":"1.75","pct":4},{"row":26,"sample":"5","pct":0},{"row":26,"sample":"7.25","pct":0},{"row":26,"sample":"7.75","pct":0},{"row":26,"sample":"11","pct":0},{"row":26,"sample":"2","pct":0},
{"row":27,"sample":"15","pct":4},{"row":27,"sample":"102","pct":0},{"row":27,"sample":"73","pct":0},{"row":27,"sample":"88","pct":6},{"row":27,"sample":"92","pct":0},{"row":27,"sample":"111","pct":0},{"row":27,"sample":"39","pct":0},{"row":27,"sample":"53","pct":0},{"row":27,"sample":"46","pct":0},{"row":27,"sample":"57","pct":0},{"row":27,"sample":"68","pct":4},{"row":27,"sample":"2.5","pct":0},{"row":27,"sample":"1","pct":0},{"row":27,"sample":"1.75","pct":0},{"row":27,"sample":"5","pct":0},{"row":27,"sample":"7.25","pct":0},{"row":27,"sample":"7.75","pct":0},{"row":27,"sample":"11","pct":0},{"row":27,"sample":"2","pct":0},
{"row":28,"sample":"15","pct":0},{"row":28,"sample":"102","pct":0},{"row":28,"sample":"73","pct":2},{"row":28,"sample":"88","pct":0},{"row":28,"sample":"92","pct":0},{"row":28,"sample":"111","pct":0},{"row":28,"sample":"39","pct":0},{"row":28,"sample":"53","pct":0},{"row":28,"sample":"46","pct":0},{"row":28,"sample":"57","pct":0},{"row":28,"sample":"68","pct":4},{"row":28,"sample":"2.5","pct":0},{"row":28,"sample":"1","pct":0},{"row":28,"sample":"1.75","pct":0},{"row":28,"sample":"5","pct":0},{"row":28,"sample":"7.25","pct":0},{"row":28,"sample":"7.75","pct":0},{"row":28,"sample":"11","pct":0},{"row":28,"sample":"2","pct":0},
{"row":29,"sample":"15","pct":0},{"row":29,"sample":"102","pct":0},{"row":29,"sample":"73","pct":2},{"row":29,"sample":"88","pct":0},{"row":29,"sample":"92","pct":0},{"row":29,"sample":"111","pct":0},{"row":29,"sample":"39","pct":0},{"row":29,"sample":"53","pct":0},{"row":29,"sample":"46","pct":0},{"row":29,"sample":"57","pct":0},{"row":29,"sample":"68","pct":6},{"row":29,"sample":"2.5","pct":0},{"row":29,"sample":"1","pct":0},{"row":29,"sample":"1.75","pct":0},{"row":29,"sample":"5","pct":0},{"row":29,"sample":"7.25","pct":0},{"row":29,"sample":"7.75","pct":0},{"row":29,"sample":"11","pct":0},{"row":29,"sample":"2","pct":0},
{"row":30,"sample":"15","pct":0},{"row":30,"sample":"102","pct":2},{"row":30,"sample":"73","pct":0},{"row":30,"sample":"88","pct":0},{"row":30,"sample":"92","pct":0},{"row":30,"sample":"111","pct":0},{"row":30,"sample":"39","pct":0},{"row":30,"sample":"53","pct":0},{"row":30,"sample":"46","pct":0},{"row":30,"sample":"57","pct":0},{"row":30,"sample":"68","pct":4},{"row":30,"sample":"2.5","pct":0},{"row":30,"sample":"1","pct":0},{"row":30,"sample":"1.75","pct":0},{"row":30,"sample":"5","pct":0},{"row":30,"sample":"7.25","pct":0},{"row":30,"sample":"7.75","pct":0},{"row":30,"sample":"11","pct":0},{"row":30,"sample":"2","pct":0},
{"row":31,"sample":"15","pct":0},{"row":31,"sample":"102","pct":0},{"row":31,"sample":"73","pct":0},{"row":31,"sample":"88","pct":0},{"row":31,"sample":"92","pct":0},{"row":31,"sample":"111","pct":0},{"row":31,"sample":"39","pct":0},{"row":31,"sample":"53","pct":0},{"row":31,"sample":"46","pct":0},{"row":31,"sample":"57","pct":0},{"row":31,"sample":"68","pct":4},{"row":31,"sample":"2.5","pct":0},{"row":31,"sample":"1","pct":0},{"row":31,"sample":"1.75","pct":0},{"row":31,"sample":"5","pct":0},{"row":31,"sample":"7.25","pct":0},{"row":31,"sample":"7.75","pct":0},{"row":31,"sample":"11","pct":0},{"row":31,"sample":"2","pct":0},
{"row":32,"sample":"15","pct":0},{"row":32,"sample":"102","pct":0},{"row":32,"sample":"73","pct":0},{"row":32,"sample":"88","pct":0},{"row":32,"sample":"92","pct":0},{"row":32,"sample":"111","pct":0},{"row":32,"sample":"39","pct":0},{"row":32,"sample":"53","pct":0},{"row":32,"sample":"46","pct":0},{"row":32,"sample":"57","pct":0},{"row":32,"sample":"68","pct":3},{"row":32,"sample":"2.5","pct":0},{"row":32,"sample":"1","pct":0},{"row":32,"sample":"1.75","pct":0},{"row":32,"sample":"5","pct":0},{"row":32,"sample":"7.25","pct":0},{"row":32,"sample":"7.75","pct":0},{"row":32,"sample":"11","pct":0},{"row":32,"sample":"2","pct":0},
{"row":33,"sample":"15","pct":0},{"row":33,"sample":"102","pct":6},{"row":33,"sample":"73","pct":6},{"row":33,"sample":"88","pct":0},{"row":33,"sample":"92","pct":0},{"row":33,"sample":"111","pct":0},{"row":33,"sample":"39","pct":0},{"row":33,"sample":"53","pct":0},{"row":33,"sample":"46","pct":0},{"row":33,"sample":"57","pct":0},{"row":33,"sample":"68","pct":0},{"row":33,"sample":"2.5","pct":0},{"row":33,"sample":"1","pct":0},{"row":33,"sample":"1.75","pct":0},{"row":33,"sample":"5","pct":0},{"row":33,"sample":"7.25","pct":0},{"row":33,"sample":"7.75","pct":0},{"row":33,"sample":"11","pct":0},{"row":33,"sample":"2","pct":0},
{"row":34,"sample":"15","pct":0},{"row":34,"sample":"102","pct":0},{"row":34,"sample":"73","pct":0},{"row":34,"sample":"88","pct":0},{"row":34,"sample":"92","pct":0},{"row":34,"sample":"111","pct":5},{"row":34,"sample":"39","pct":0},{"row":34,"sample":"53","pct":0},{"row":34,"sample":"46","pct":0},{"row":34,"sample":"57","pct":0},{"row":34,"sample":"68","pct":0},{"row":34,"sample":"2.5","pct":0},{"row":34,"sample":"1","pct":0},{"row":34,"sample":"1.75","pct":0},{"row":34,"sample":"5","pct":0},{"row":34,"sample":"7.25","pct":0},{"row":34,"sample":"7.75","pct":0},{"row":34,"sample":"11","pct":0},{"row":34,"sample":"2","pct":0}
]
},
"layer":[
{
"data":{"name":"cells"},
"encoding":{
"x":{"field":"sample","type":"ordinal","axis":null,"scale":{"type":"band","domain":["15","102","73","88","92","111","39","53","46","57","68","2.5","1","1.75","5","7.25","7.75","11","2"],"range":[1184,1925],"paddingInner":0,"paddingOuter":0}},
"y":{"field":"row","type":"ordinal","axis":null,"scale":{"type":"band","domain":[0,1,2,3,4,5,6,7,8,9,10,11,12,13,14,15,16,17,18,19,20,21,22,23,24,25,26,27,28,29,30,31,32,33,34],"range":[20,1161],"paddingInner":0,"paddingOuter":0}},
"color":{"field":"pct","type":"quantitative","scale":{"type":"linear","domain":[0,33.333,66.667,100],"range":["#0000ff","#00ffff","#ffff00","#ff0000"],"interpolate":"rgb"},
"legend":{"type":"gradient","orient":"none","legendX":1937.7,"legendY":52.5,"title":null,"direction":"vertical","gradientLength":615.5,"gradientThickness":23,"gradientStrokeWidth":0,"values":[0,33.333,66.667,100],"labelExpr":"datum.value >= 99.9 ? '100%' : datum.value <= 0.1 ? '0%' : format(datum.value, '.1f')","labelFontSize":33,"labelOffset":10,"labelOverlap":false,"padding":0,"labelColor":"black","encode":{"labels":{"update":{"baseline":{"value":"middle"}}}}}}
},
"layer":[
{"mark":{"type":"rect"},"encoding":{}},
{"mark":{"type":"rect"},"encoding":{}}
]
},
{
"layer":[
{
"data":{"name":"groups"},
"mark":{"type":"rect","stroke":"black","strokeWidth":2.5},
"encoding":{
"x":{"datum":1.128,"type":"quantitative","axis":null,"scale":{"domain":[-2.711904,1.295463],"reverse":true,"nice":false,"zero":false}},
"x2":{"datum":-1},
"y":{"field":"row_from","type":"quantitative","axis":null,"scale":{"domain":[-1.35357,50.4971],"reverse":true,"nice":false,"zero":false}},
"y2":{"field":"row_to"},
"fill":{"field":"group","type":"nominal","scale":{"domain":["Agglutinates","Calcareous"],"range":["#EFDFDF","#DFE1ED"]},
"legend":{"orient":"none","legendX":193,"legendY":1227,"title":null,"symbolType":"square","symbolSize":4356,"symbolStrokeColor":"black","symbolStrokeWidth":2.5,"symbolOpacity":1,"labelFontSize":35,"labelOffset":25,"rowPadding":27.4,"padding":0,"labelLimit":500,"labelColor":"black"}}
}
},
{
"data":{"name":"rtree"},
"mark":{"type":"rule","strokeWidth":2.2,"color":"black"},
"encoding":{
"x":{"field":"h1","type":"quantitative","axis":null,"scale":{"domain":[-2.711904,1.295463],"reverse":true,"nice":false,"zero":false}},
"x2":{"field":"h2"},
"y":{"field":"r1","type":"quantitative","axis":null,"scale":{"domain":[-1.35357,50.4971],"reverse":true,"nice":false,"zero":false}},
"y2":{"field":"r2"}
}
},
{
"data":{"name":"species"},
"mark":{"type":"rule","strokeWidth":2.2,"color":"black"},
"encoding":{
"x":{"datum":-0.05,"type":"quantitative","axis":null,"scale":{"domain":[-2.711904,1.295463],"reverse":true,"nice":false,"zero":false}},
"x2":{"datum":-1},
"y":{"field":"row","type":"quantitative","axis":null,"scale":{"domain":[-1.35357,50.4971],"reverse":true,"nice":false,"zero":false}}
}
},
{
"data":{"name":"species"},
"mark":{"type":"text","align":"left","baseline":"middle","dx":19,"font":"DejaVu Sans","fontSize":31.5,"fontStyle":"italic","strokeWidth":22,"strokeJoin":"round","fillOpacity":0},
"encoding":{
"x":{"datum":0,"type":"quantitative","axis":null,"scale":{"domain":[-2.711904,1.295463],"reverse":true,"nice":false,"zero":false}},
"y":{"field":"row","type":"quantitative","axis":null,"scale":{"domain":[-1.35357,50.4971],"reverse":true,"nice":false,"zero":false}},
"text":{"field":"species"},
"stroke":{"field":"group","type":"nominal","scale":{"domain":["Agglutinates","Calcareous"],"range":["#EFDFDF","#DFE1ED"]},"legend":null}
}
},
{
"data":{"name":"species"},
"transform":[{"filter":"datum.rank !== 'family' && datum.rank !== 'subfamily'"}],
"mark":{"type":"text","align":"left","baseline":"middle","dx":19,"font":"DejaVu Sans","fontSize":31.5,"fontStyle":"italic","color":"black"},
"encoding":{
"x":{"datum":0,"type":"quantitative","axis":null,"scale":{"domain":[-2.711904,1.295463],"reverse":true,"nice":false,"zero":false}},
"y":{"field":"row","type":"quantitative","axis":null,"scale":{"domain":[-1.35357,50.4971],"reverse":true,"nice":false,"zero":false}},
"text":{"field":"species"}
}
},
{
"data":{"name":"species"},
"transform":[{"filter":"datum.rank === 'family' || datum.rank === 'subfamily'"}],
"mark":{"type":"text","align":"left","baseline":"middle","dx":17,"font":"DejaVu Sans","fontSize":31.5,"color":"black"},
"encoding":{
"x":{"datum":0,"type":"quantitative","axis":null,"scale":{"domain":[-2.711904,1.295463],"reverse":true,"nice":false,"zero":false}},
"y":{"field":"row","type":"quantitative","axis":null,"scale":{"domain":[-1.35357,50.4971],"reverse":true,"nice":false,"zero":false}},
"text":{"field":"species"}
}
},
{
"data":{"values":[{"part":"frame"}]},
"mark":{"type":"rect","filled":false,"stroke":"black","strokeWidth":4.5},
"encoding":{
"x":{"datum":1.128,"type":"quantitative","axis":null,"scale":{"domain":[-2.711904,1.295463],"reverse":true,"nice":false,"zero":false}},
"x2":{"datum":-2.4366},
"y":{"datum":-0.75,"type":"quantitative","axis":null,"scale":{"domain":[-1.35357,50.4971],"reverse":true,"nice":false,"zero":false}},
"y2":{"datum":34.62}
}
},
{
"data":{"values":[{"part":"group divider"}]},
"mark":{"type":"rule","stroke":"black","strokeWidth":4},
"encoding":{
"x":{"datum":1.128,"type":"quantitative","axis":null,"scale":{"domain":[-2.711904,1.295463],"reverse":true,"nice":false,"zero":false}},
"x2":{"datum":-1},
"y":{"datum":7.5,"type":"quantitative","axis":null,"scale":{"domain":[-1.35357,50.4971],"reverse":true,"nice":false,"zero":false}}
}
},
{
"data":{"values":[{"part":"heatmap edge"}]},
"mark":{"type":"rule","stroke":"black","strokeWidth":4},
"encoding":{
"x":{"datum":-1,"type":"quantitative","axis":null,"scale":{"domain":[-2.711904,1.295463],"reverse":true,"nice":false,"zero":false}},
"y":{"datum":-0.75,"type":"quantitative","axis":null,"scale":{"domain":[-1.35357,50.4971],"reverse":true,"nice":false,"zero":false}},
"y2":{"datum":34.62}
}
},
{
"data":{"values":[{"title":"R-mode"}]},
"mark":{"type":"text","angle":270,"align":"center","baseline":"middle","fontSize":42,"fontWeight":"bold","color":"black"},
"encoding":{
"x":{"datum":1.2422,"type":"quantitative","axis":null,"scale":{"domain":[-2.711904,1.295463],"reverse":true,"nice":false,"zero":false}},
"y":{"datum":16.92,"type":"quantitative","axis":null,"scale":{"domain":[-1.35357,50.4971],"reverse":true,"nice":false,"zero":false}},
"text":{"field":"title"}
}
}
]
},
{
"layer":[
{
"data":{"name":"qtree"},
"mark":{"type":"rule","strokeWidth":2,"color":"black"},
"encoding":{
"x":{"field":"p1","type":"quantitative","axis":null,"scale":{"domain":[-30.13854,21.92695],"nice":false,"zero":false}},
"x2":{"field":"p2"},
"y":{"field":"h1","type":"quantitative","axis":null,"scale":{"domain":[-3.976318,1.309441],"reverse":true,"nice":false,"zero":false}},
"y2":{"field":"h2"}
}
},
{
"data":{"name":"samples"},
"mark":{"type":"text","angle":270,"align":"left","baseline":"middle","dx":17,"fontSize":33,"color":"black"},
"encoding":{
"x":{"field":"pos","type":"quantitative","axis":null,"scale":{"domain":[-30.13854,21.92695],"nice":false,"zero":false}},
"y":{"datum":0,"type":"quantitative","axis":null,"scale":{"domain":[-3.976318,1.309441],"reverse":true,"nice":false,"zero":false}},
"text":{"field":"sample"}
}
},
{
"data":{"values":[{"label":"lower unit"}]},
"mark":{"type":"text","align":"center","baseline":"alphabetic","fontSize":38,"color":"black"},
"encoding":{
"x":{"datum":4.975,"type":"quantitative","axis":null,"scale":{"domain":[-30.13854,21.92695],"nice":false,"zero":false}},
"y":{"datum":0.738,"type":"quantitative","axis":null,"scale":{"domain":[-3.976318,1.309441],"reverse":true,"nice":false,"zero":false}},
"text":{"field":"label"}
}
},
{
"data":{"values":[{"label":"upper unit"}]},
"mark":{"type":"text","align":"center","baseline":"alphabetic","fontSize":38,"color":"black"},
"encoding":{
"x":{"datum":15.35,"type":"quantitative","axis":null,"scale":{"domain":[-30.13854,21.92695],"nice":false,"zero":false}},
"y":{"datum":0.713,"type":"quantitative","axis":null,"scale":{"domain":[-3.976318,1.309441],"reverse":true,"nice":false,"zero":false}},
"text":{"field":"label"}
}
},
{
"data":{"values":[{"title":"Q-mode"}]},
"mark":{"type":"text","align":"center","baseline":"alphabetic","fontSize":44,"fontWeight":"bold","color":"black"},
"encoding":{
"x":{"datum":9,"type":"quantitative","axis":null,"scale":{"domain":[-30.13854,21.92695],"nice":false,"zero":false}},
"y":{"datum":1.253,"type":"quantitative","axis":null,"scale":{"domain":[-3.976318,1.309441],"reverse":true,"nice":false,"zero":false}},
"text":{"field":"title"}
}
}
]
}
],
"resolve":{"scale":{"x":"independent","y":"independent","color":"independent","fill":"independent","stroke":"independent"}}
}
